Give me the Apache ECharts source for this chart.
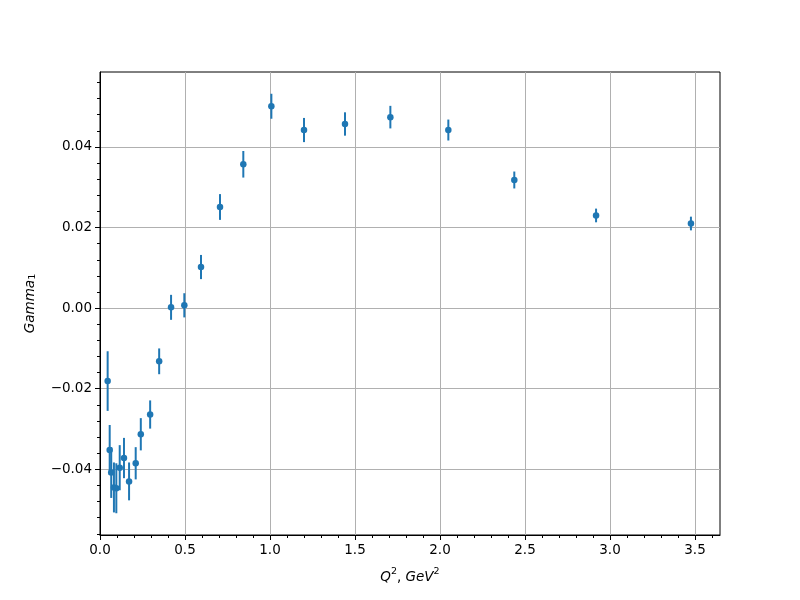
<!DOCTYPE html>
<html>
<head>
<meta charset="utf-8">
<script src="https://cdn.jsdelivr.net/npm/echarts@6/dist/echarts.min.js"></script>
<style>html,body{margin:0;padding:0;background:#fff}#c{width:800px;height:600px}</style>
</head>
<body>
<div id="c"></div>
<script>
// Data
const q2 = [0.045, 0.057, 0.066, 0.082, 0.096, 0.116, 0.141, 0.171, 0.21, 0.24, 0.295, 0.348, 0.418, 0.496, 0.594, 0.706, 0.843, 1.008, 1.2, 1.441, 1.708, 2.049, 2.437, 2.918, 3.476];
const gamma1 = [-0.0181, -0.0352, -0.0408, -0.0445, -0.0447, -0.0396, -0.0372, -0.0430, -0.0385, -0.0313, -0.0264, -0.0132, 0.0002, 0.0007, 0.0102, 0.0251, 0.0357, 0.0501, 0.0442, 0.0457, 0.0474, 0.0442, 0.0318, 0.0230, 0.0210];
const gammaErr = [0.0074, 0.0062, 0.0063, 0.0062, 0.0062, 0.0056, 0.0050, 0.0047, 0.0040, 0.0040, 0.0035, 0.0032, 0.0031, 0.0030, 0.0030, 0.0032, 0.0033, 0.0031, 0.0030, 0.0029, 0.0028, 0.0026, 0.0021, 0.0017, 0.0017];

const xMajorTicks = [0, 0.5, 1.0, 1.5, 2.0, 2.5, 3.0, 3.5];
const yMajorTicks = [-0.04, -0.02, 0.0, 0.02, 0.04];
const yMinorTicks = [-0.056,-0.052,-0.048,-0.044,-0.036,-0.032,-0.028,-0.024,-0.016,-0.012,-0.008,-0.004,0.004,0.008,0.012,0.016,0.024,0.028,0.032,0.036,0.044,0.048,0.052,0.056];

const xMin = 0, xMax = 3.647, yMin = -0.0563, yMax = 0.0586;
const color = '#1f77b4';
const font = 'DejaVu Sans';

const points = q2.map((x, i) => [x, gamma1[i]]);
const bars = q2.map((x, i) => [x, gamma1[i] - gammaErr[i], gamma1[i] + gammaErr[i]]);

const chart = echarts.init(document.getElementById('c'), null, {renderer: 'canvas'});
const fmtY = v => (v < 0 ? '\u2212' : '') + Math.abs(v).toFixed(2);
const gridBox = {left: 100, right: 80, top: 72, bottom: 65};
const minorTick = {show: true, length: 3, lineStyle: {color: '#000', width: 1}};

chart.setOption({
  animation: false,
  backgroundColor: '#fff',
  grid: [
    Object.assign({show: true, borderColor: '#000', borderWidth: 1, backgroundColor: 'transparent'}, gridBox),
    Object.assign({show: false}, gridBox)
  ],
  xAxis: [{
    type: 'value', gridIndex: 0, min: xMin, max: xMax, interval: 0.5,
    axisLine: {show: true, onZero: false, lineStyle: {color: '#000', width: 1}},
    axisTick: {show: true, length: 5, lineStyle: {color: '#000'}, customValues: xMajorTicks},
    minorTick: {show: true, splitNumber: 5, length: 3, lineStyle: {color: '#000', width: 1}},
    axisLabel: {color: '#000', fontFamily: font, fontSize: 13.5, margin: 8, customValues: xMajorTicks, formatter: v => v.toFixed(1)},
    splitLine: {show: true, lineStyle: {color: '#b0b0b0', width: 1}},
    name: '{i|Q}{s|2}{n|, }{i|GeV}{s|2}',
    nameLocation: 'middle', nameGap: 32,
    nameTextStyle: {rich: {
      i: {fontFamily: font, fontStyle: 'italic', fontSize: 13.5, color: '#000', lineHeight: 20},
      n: {fontFamily: font, fontSize: 13.5, color: '#000', lineHeight: 20},
      s: {fontFamily: font, fontSize: 9.5, color: '#000', lineHeight: 20, padding: [0, 0, 10, 0]}
    }}
  }, {
    // helper x axis for grid 1 (hidden)
    type: 'value', gridIndex: 1, min: xMin, max: xMax, show: false
  }],
  yAxis: [{
    type: 'value', gridIndex: 0, min: yMin, max: yMax,
    axisLine: {show: true, onZero: false, lineStyle: {color: '#000', width: 1}},
    axisTick: {show: true, length: 5, lineStyle: {color: '#000'}, customValues: yMajorTicks},
    axisLabel: {color: '#000', fontFamily: font, fontSize: 13.5, margin: 8, customValues: yMajorTicks, formatter: fmtY},
    splitLine: {show: true, lineStyle: {color: '#b0b0b0', width: 1}},
    name: '{i|Gamma}{s|1}',
    nameLocation: 'middle', nameGap: 62, nameRotate: 90,
    nameTextStyle: {rich: {
      i: {fontFamily: font, fontStyle: 'italic', fontSize: 13.5, color: '#000'},
      s: {fontFamily: font, fontSize: 9.5, color: '#000', verticalAlign: 'bottom', padding: [6, 0, 0, 0]}
    }}
  }, {
    // minor y ticks
    type: 'value', gridIndex: 1, min: yMin, max: yMax, position: 'left',
    axisLine: {show: false, onZero: false},
    splitLine: {show: false}, axisLabel: {show: false},
    axisTick: Object.assign({customValues: yMinorTicks}, minorTick)
  }],
  series: [{
    type: 'custom',
    xAxisIndex: 0, yAxisIndex: 0,
    data: bars,
    z: 2,
    renderItem: (params, api) => {
      const x = api.value(0);
      const p1 = api.coord([x, api.value(1)]);
      const p2 = api.coord([x, api.value(2)]);
      return {type: 'line', shape: {x1: p1[0], y1: p1[1], x2: p2[0], y2: p2[1]}, style: {stroke: color, lineWidth: 2}};
    },
    silent: true
  }, {
    type: 'scatter',
    xAxisIndex: 0, yAxisIndex: 0,
    data: points,
    symbol: 'circle', symbolSize: 6.5,
    itemStyle: {color: color, opacity: 1},
    z: 3,
    silent: true
  }]
});
</script>
</body>
</html>
